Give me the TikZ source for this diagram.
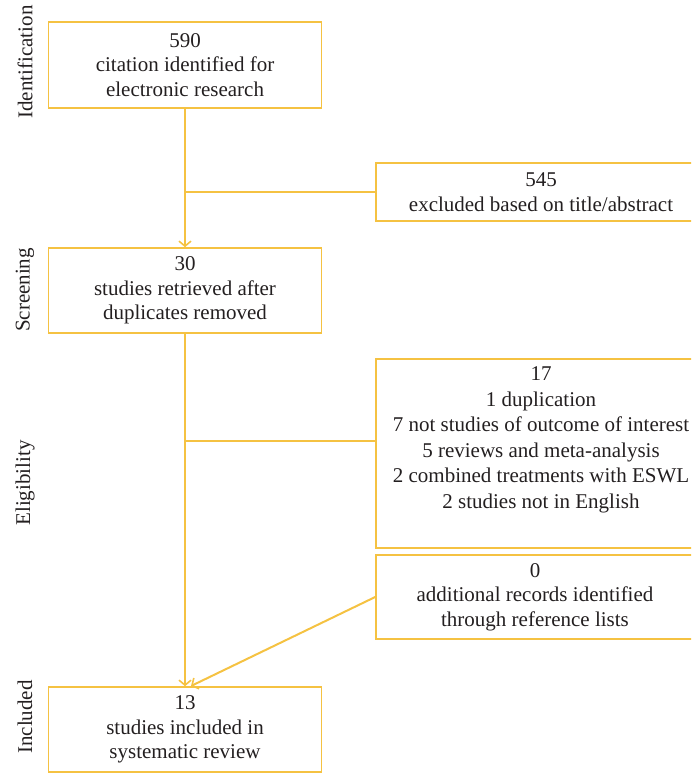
\documentclass[tikz,border=0pt]{standalone}
\usepackage{fontspec}
\setmainfont{Liberation Serif}
\usetikzlibrary{arrows.meta}
\definecolor{lineor}{RGB}{245,194,66}
\definecolor{txt}{RGB}{35,31,32}
\begin{document}
\begin{tikzpicture}[x=1pt,y=-1pt,
  box/.style={draw=lineor, line width=1.6pt, text=txt, align=center, inner sep=0pt,
    font=\fontsize{21}{24.5}\selectfont},
  plain/.style={text=txt, align=center, inner sep=0pt, font=\fontsize{21}{25.5}\selectfont},
  conn/.style={draw=lineor, line width=2pt},
  arr/.style={conn, -{Straight Barb[length=5pt,width=12pt,line width=1.6pt]}},
  phase/.style={rotate=90, text=txt, inner sep=0pt, font=\fontsize{21}{24}\selectfont}]
\useasboundingbox (0,0) rectangle (691,773);
\clip (0,0) rectangle (691,773);
\node[box, minimum width=273pt, minimum height=86pt] (b1) at (185,65) {590\\citation identified for\\electronic research};
\node[box, minimum width=330pt, minimum height=58pt] (b2) at (541,192) {545\\excluded based on title/abstract};
\node[box, minimum width=273pt, minimum height=85pt] (b3) at (185,290.5) {30\\studies retrieved after\\duplicates removed};
\node[box, minimum width=330pt, minimum height=189pt] (b4) at (541,453.5) {};
\node[plain] (t4) at (541,440) {17\\1 duplication\\7 not studies of outcome of interest\\5 reviews and meta-analysis\\2 combined treatments with ESWL\\2 studies not in English};
\node[box, minimum width=318pt, minimum height=84pt] (b5) at (535,597) {0\\additional records identified\\through reference lists};
\node[box, minimum width=273pt, minimum height=85pt] (b6) at (185,729.5) {13\\studies included in\\systematic review};
\node[phase] (p1) at (25,62) {Identification};
\node[phase] (p2) at (25,290) {Screening};
\node[phase] (p3) at (25,483) {Eligibility};
\node[phase] (p4) at (25,717) {Included};
\draw[arr] (b1.south) -- (b3.north);
\coordinate (j1) at (b1.south |- b2.west);
\draw[conn] (j1) -- (b2.west);
\draw[arr] (b3.south) -- (b6.north);
\coordinate (j2) at (185,441);
\draw[conn] (j2) -- (j2 -| b4.west);
\coordinate (d6) at (191,686);
\draw[arr] (b5.west) -- (d6);
\end{tikzpicture}
\end{document}
